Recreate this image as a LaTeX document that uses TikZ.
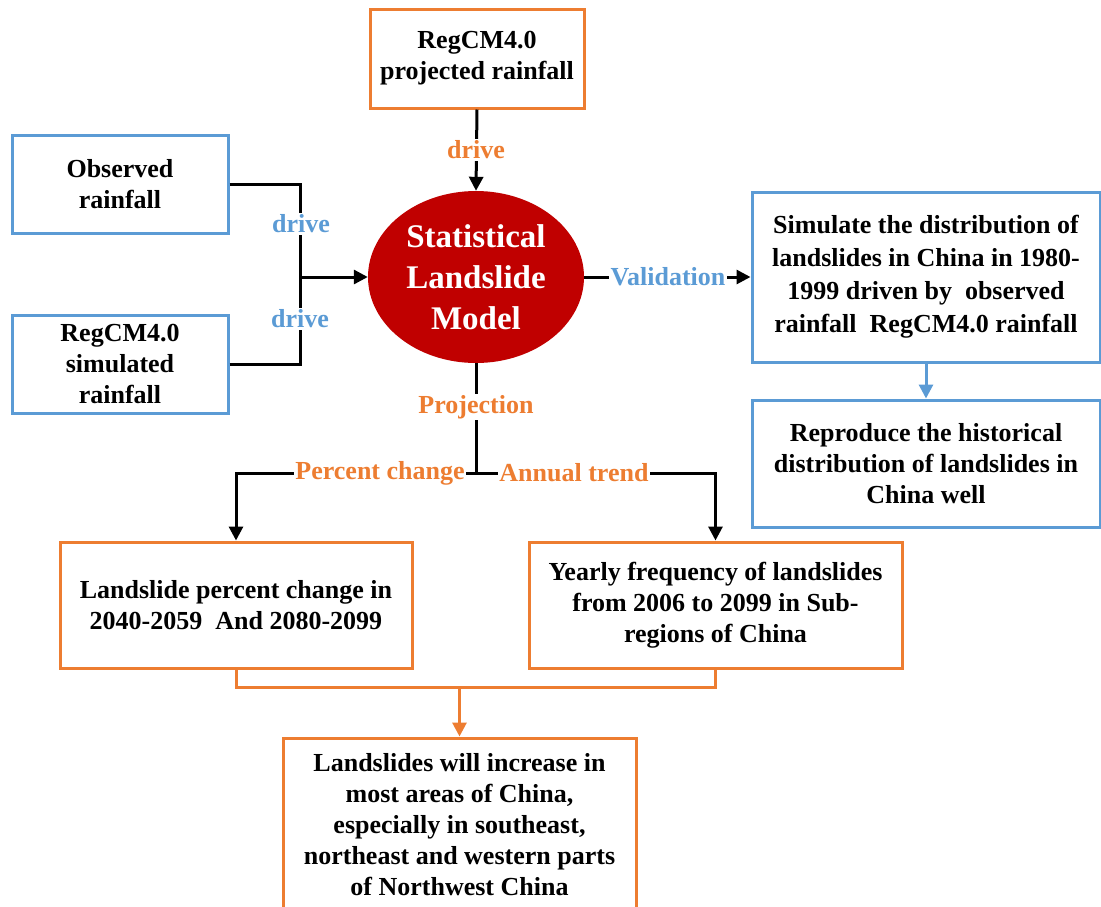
\documentclass[tikz,border=0pt]{standalone}
\usepackage{fontspec}
\setmainfont{Liberation Serif}
\usetikzlibrary{shapes.geometric,arrows.meta}
\definecolor{myorange}{HTML}{ED7D31}
\definecolor{myblue}{HTML}{5B9BD5}
\definecolor{myred}{HTML}{C00000}
\tikzset{
  boxbase/.style={rectangle, line width=3pt, align=center, inner sep=0pt, fill=white,
    font=\fontsize{26}{31}\selectfont\bfseries},
  obox/.style={boxbase, draw=myorange},
  bbox/.style={boxbase, draw=myblue},
  lbl/.style={fill=white, inner sep=1.5pt, font=\fontsize{26}{31}\selectfont\bfseries},
  olbl/.style={lbl, text=myorange},
  blbl/.style={lbl, text=myblue},
  conn/.style={line width=3pt, draw=black},
  arr/.style={conn, -{Triangle[length=14pt,width=14pt]}},
  oconn/.style={line width=3pt, draw=myorange},
  oarr/.style={oconn, -{Triangle[length=14pt,width=14pt]}},
  barr/.style={line width=3pt, draw=myblue, -{Triangle[length=14pt,width=14pt]}},
}
\begin{document}
\begin{tikzpicture}[x=1pt,y=-1pt]
\useasboundingbox (0,0) rectangle (1101,906);
\clip (0,0) rectangle (1101,906);
\fill[white] (0,0) rectangle (1101,906);

% nodes
\node[obox, minimum width=214pt, minimum height=99pt] (top) at (477,58.5) {RegCM4.0\\projected rainfall};
\node[bbox, minimum width=216pt, minimum height=98pt] (obs) at (120,184) {Observed\\rainfall};
\node[bbox, minimum width=216pt, minimum height=98pt] (sim) at (120,364) {RegCM4.0\\simulated\\rainfall};
\node[ellipse, fill=myred, minimum width=216pt, minimum height=172pt, inner sep=0pt, align=center,
      text=white, font=\fontsize{33}{41}\selectfont\bfseries] (model) at (476,277) {Statistical\\Landslide\\Model};
\node[bbox, minimum width=348pt, minimum height=170pt, font=\fontsize{26}{33}\selectfont\bfseries] (val) at (926,277)
  {Simulate the distribution of\\landslides in China in 1980-\\1999 driven by~ observed\\rainfall~ RegCM4.0 rainfall};
\node[bbox, minimum width=348pt, minimum height=127pt] (rep) at (926,463.5)
  {Reproduce the historical\\distribution of landslides in\\China well};
\node[obox, minimum width=352pt, minimum height=126pt] (pc) at (236,605)
  {Landslide percent change in\\2040-2059~ And 2080-2099};
\node[obox, minimum width=373pt, minimum height=126pt] (yf) at (715.5,605)
  {Yearly frequency of landslides\\from 2006 to 2099 in Sub-\\regions of China};
\node[obox, minimum width=353pt, minimum height=174pt] (final) at (459.5,825)
  {Landslides will increase in\\most areas of China,\\especially in southeast,\\northeast and western parts\\of Northwest China};

% coordinates
\coordinate (j) at (300,277);
\coordinate (pj) at (476,473);
\coordinate (m) at (459.5,687);

% connectors
\draw[arr] (top.south) -- (model.north);
\draw[conn] (obs.east) -| (j);
\draw[conn] (sim.east) -| (j);
\draw[arr] (j) -- (model.west);
\draw[arr] (model.east) -- (val.west);
\draw[barr] (val.south) -- (rep.north);
\draw[conn] (model.south) -- (pj);
\draw[arr] (pj) -| (pc.north);
\draw[arr] (pj) -| (yf.north);
\draw[oconn] (pc.south) |- (m) -| (yf.south);
\draw[oarr] (m) -- (final.north);

% labels
\node[olbl] (ldtop) at (476,150) {drive};
\node[blbl] (ld1) at (301,224) {drive};
\node[blbl] (ld2) at (300,319) {drive};
\node[blbl] (lval) at (668,277) {Validation};
\node[olbl] (lproj) at (476,407) {Projection};
\node[olbl] (lpc) at (380,473) {Percent change};
\node[olbl] (lat) at (574,473) {Annual trend};
\end{tikzpicture}
\end{document}
